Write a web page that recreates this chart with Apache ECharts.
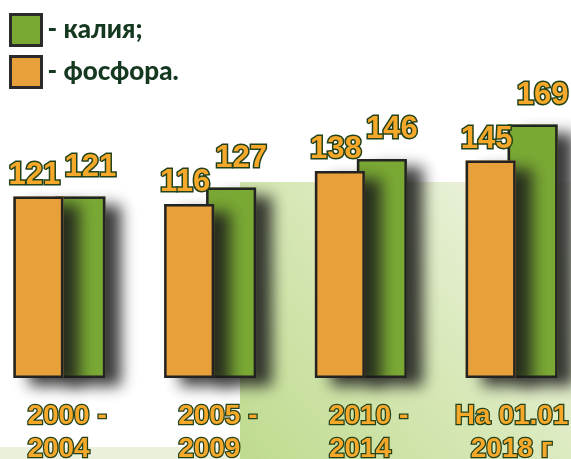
<!DOCTYPE html>
<html>
<head>
<meta charset="utf-8">
<script src="https://cdn.jsdelivr.net/npm/echarts@6/dist/echarts.min.js"></script>
<style>
html,body{margin:0;padding:0;background:#fff;}
#c{width:571px;height:459px;}
</style>
</head>
<body>
<div id="c"></div>
<script>
const categories = ['2000 -\n2004', '2005 -\n2009', '2010 -\n2014', 'На 01.01\n2018 г'];
const phosphorus = [121, 116, 138, 145];
const potassium = [121, 127, 146, 169];
const seriesNames = ['- фосфора.', '- калия;'];

const chart = echarts.init(document.getElementById('c'), null, {renderer: 'canvas'});

const labelFont = "'Liberation Sans', Arial, sans-serif";
const labelText = {
  color: '#f6a82a',
  fontFamily: labelFont,
  fontWeight: 'bold',
  fontSize: 31,
  textBorderColor: '#23421a',
  textBorderWidth: 3
};
const barShadow = {
  shadowBlur: 14,
  shadowColor: 'rgba(25,25,25,0.85)',
  shadowOffsetX: 16,
  shadowOffsetY: 8
};
const ORANGE = '#e8a03b';
const GREEN = '#79a833';

chart.setOption({
  animation: false,
  backgroundColor: '#ffffff',
  graphic: [
    {
      type: 'rect', z: -10, silent: true,
      shape: {x: 240, y: 182, width: 331, height: 277},
      style: {
        fill: new echarts.graphic.LinearGradient(0, 1, 1, 0, [
          {offset: 0, color: '#bfdb8f'},
          {offset: 0.5, color: '#d8e8b8'},
          {offset: 1, color: '#f2f6ea'}
        ])
      }
    },
    {
      type: 'rect', z: -10, silent: true,
      shape: {x: 0, y: 447, width: 240, height: 12},
      style: {fill: '#eaf0dc'}
    }
  ],
  legend: {
    orient: 'vertical',
    left: 4,
    top: 8,
    itemWidth: 31,
    itemHeight: 31,
    itemGap: 8,
    icon: 'rect',
    data: [seriesNames[1], seriesNames[0]],
    itemStyle: {borderColor: '#2a2a2a', borderWidth: 3, shadowBlur: 0, shadowColor: 'rgba(0,0,0,0)', shadowOffsetX: 0, shadowOffsetY: 0},
    textStyle: {
      color: '#153820',
      fontFamily: 'Lato',
      fontWeight: 900,
      fontSize: 26,
      padding: [0, 0, 0, 1]
    },
    selectedMode: false
  },
  grid: {left: -16, right: -16, top: 78, bottom: 81, containLabel: false, outerBoundsMode: 'none'},
  xAxis: [
    {
      type: 'category',
      data: categories,
      axisLine: {show: false},
      axisTick: {show: false},
      splitLine: {show: false},
      axisLabel: {
        interval: 0,
        margin: 22,
        formatter: function (v, i) {
          const st = i === 3 ? 'c' : 'a';
          return v.split('\n').map(function (s) { return '{' + st + '|' + s + '}'; }).join('\n');
        },
        rich: {
          a: Object.assign({}, labelText, {fontSize: 28, lineHeight: 33, width: 80, padding: [0, 0, 0, 16], align: 'left', textBorderWidth: 2.5}),
          c: Object.assign({}, labelText, {fontSize: 28, lineHeight: 33, width: 110, align: 'center', textBorderWidth: 2.5})
        }
      }
    },
    {
      type: 'category',
      data: categories,
      show: false,
      gridIndex: 0
    }
  ],
  yAxis: {
    type: 'value',
    min: 0,
    max: 200,
    show: false,
    splitLine: {show: false}
  },
  series: [
    {
      name: 'shadow-p',
      type: 'bar',
      xAxisIndex: 1,
      z: 3,
      data: phosphorus,
      barWidth: 50,
      barGap: '-16%',
      silent: true,
      itemStyle: Object.assign({color: ORANGE, borderWidth: 0}, barShadow)
    },
    {
      name: 'shadow-k',
      type: 'bar',
      xAxisIndex: 1,
      z: 1,
      data: potassium,
      barWidth: 50,
      barGap: '-16%',
      silent: true,
      itemStyle: Object.assign({color: GREEN, borderWidth: 0}, barShadow)
    },
    {
      name: seriesNames[0],
      type: 'bar',
      xAxisIndex: 0,
      z: 4,
      data: phosphorus,
      barWidth: 50,
      barGap: '-16%',
      itemStyle: {color: ORANGE, borderColor: '#232323', borderWidth: 2.5},
      label: Object.assign({show: true, position: 'top', distance: 6, offset: [-4, 0]}, labelText)
    },
    {
      name: seriesNames[1],
      type: 'bar',
      xAxisIndex: 0,
      z: 2,
      data: potassium,
      barWidth: 50,
      barGap: '-16%',
      itemStyle: {color: GREEN, borderColor: '#232323', borderWidth: 2.5},
      label: Object.assign({show: true, position: 'top', distance: 14, offset: [10, 0]}, labelText)
    }
  ]
});
</script>
</body>
</html>
